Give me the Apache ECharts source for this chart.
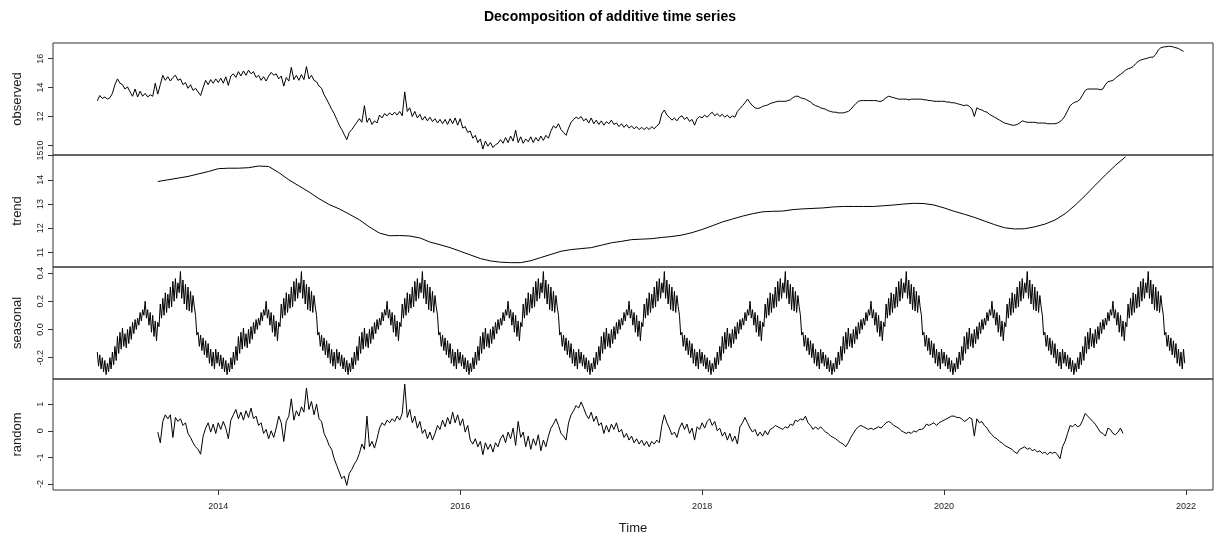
<!DOCTYPE html>
<html>
<head>
<meta charset="utf-8">
<title>Decomposition of additive time series</title>
<script src="https://cdn.jsdelivr.net/npm/echarts@6/dist/echarts.min.js"></script>
<style>
  html, body { margin: 0; padding: 0; background: #ffffff; }
  #chart { width: 1220px; height: 537px; }
</style>
</head>
<body>
<div id="chart"></div>
<script>
// Daily series, stored here at a regular step (fraction of a year).
const observedStart = 2013;
const observedStep = 1 / 48;
const observed = [
  13.08,13.45,13.25,13.35,13.2,13.3,13.6,14.2,14.6,14.3,
  14.2,13.9,14.05,13.7,13.4,13.9,13.35,13.75,13.4,13.6,
  13.35,13.5,13.4,14.3,13.55,14.2,14.85,14.5,14.75,14.45,
  14.7,14.85,14.5,14.6,14.2,14.35,13.95,14.2,13.8,13.95,
  13.7,13.45,14.0,14.5,14.2,14.55,14.3,14.6,14.35,14.65,
  14.3,14.75,14.15,14.8,14.95,14.7,15.1,14.8,15.15,14.85,
  15.2,14.95,15.1,14.7,14.85,14.5,14.75,14.45,14.8,15.05,
  14.85,14.95,14.6,14.8,14.1,14.7,14.45,15.4,14.55,14.85,
  14.5,14.9,14.55,15.45,14.6,14.85,14.5,14.4,14.1,13.95,
  13.5,13.2,12.85,12.5,12.2,11.8,11.4,11.1,10.75,10.4,
  10.9,11.1,11.35,11.6,11.85,11.6,12.75,11.6,11.9,11.45,
  11.7,11.55,12.1,11.9,12.2,12.05,12.25,12.1,12.3,12.1,
  12.35,12.05,13.7,12.35,12.6,12.0,12.35,11.9,12.15,11.75,
  12.0,11.7,11.95,11.65,11.85,11.55,11.8,11.5,11.8,11.45,
  11.85,11.5,11.9,11.4,11.85,11.2,11.3,10.9,11.0,10.5,
  10.7,10.2,10.45,9.75,10.3,9.95,10.2,9.85,10.05,10.15,
  10.4,10.15,10.55,10.2,10.65,10.3,11.05,10.2,10.6,10.15,
  10.45,10.25,10.6,10.2,10.55,10.3,10.65,10.35,10.7,10.5,
  11.0,11.35,11.2,11.5,11.1,10.9,10.7,11.2,11.6,11.8,
  11.95,11.85,12.0,11.7,11.85,11.55,11.9,11.5,11.75,11.45,
  11.7,11.4,11.65,11.5,11.75,11.45,11.55,11.3,11.5,11.25,
  11.45,11.2,11.35,11.15,11.3,11.1,11.25,11.1,11.25,11.1,
  11.3,11.15,11.35,11.5,12.2,12.45,12.1,11.95,11.75,11.9,
  11.7,11.95,12.05,11.8,11.95,11.65,11.8,11.4,11.85,12.0,
  11.9,12.1,11.95,12.15,12.3,12.05,12.2,12.0,12.15,11.95,
  12.1,11.9,12.05,11.95,12.35,12.55,12.75,12.95,13.2,12.95,
  12.75,12.6,12.55,12.6,12.7,12.75,12.8,12.9,12.95,13.0,
  13.05,13.05,13.05,13.05,13.1,13.15,13.3,13.4,13.4,13.3,
  13.25,13.2,13.1,13.0,12.85,12.75,12.7,12.6,12.55,12.5,
  12.4,12.35,12.3,12.3,12.25,12.25,12.25,12.3,12.35,12.5,
  12.7,12.9,13.05,13.1,13.1,13.1,13.1,13.1,13.1,13.1,
  13.05,13.05,13.15,13.3,13.4,13.35,13.3,13.25,13.2,13.2,
  13.2,13.2,13.15,13.2,13.2,13.2,13.2,13.2,13.15,13.15,
  13.1,13.1,13.05,13.05,13.05,13.05,13.05,13.0,13.0,12.95,
  12.95,12.9,12.85,12.8,12.75,12.8,12.7,12.55,12.0,12.6,
  12.5,12.45,12.35,12.3,12.15,12.05,11.95,11.85,11.75,11.65,
  11.55,11.5,11.45,11.4,11.4,11.45,11.55,11.7,11.65,11.6,
  11.6,11.6,11.6,11.55,11.55,11.55,11.55,11.5,11.5,11.5,
  11.5,11.55,11.65,11.8,12.05,12.4,12.75,12.9,13.0,13.05,
  13.2,13.5,13.8,13.9,13.9,13.9,13.9,13.9,13.85,13.9,
  14.2,14.4,14.45,14.5,14.65,14.8,14.9,15.05,15.2,15.3,
  15.35,15.45,15.65,15.8,15.9,15.95,16.0,16.05,16.1,16.1,
  16.3,16.6,16.75,16.8,16.82,16.85,16.85,16.8,16.75,16.7,16.6,16.5
];

const trendStart = 2013.5;
const trendStep = 1 / 12;
const trend = [
  13.93,14.0,14.07,14.14,14.24,14.34,14.46,14.48,14.48,14.5,
  14.57,14.55,14.3,14.0,13.75,13.5,13.22,12.98,12.8,12.58,
  12.35,12.05,11.8,11.69,11.7,11.68,11.6,11.43,11.32,11.2,
  11.05,10.9,10.75,10.65,10.6,10.58,10.58,10.66,10.79,10.92,
  11.05,11.12,11.16,11.2,11.3,11.4,11.46,11.53,11.55,11.57,
  11.62,11.66,11.72,11.82,11.95,12.1,12.26,12.38,12.5,12.6,
  12.68,12.7,12.71,12.77,12.8,12.82,12.84,12.88,12.9,12.9,
  12.9,12.9,12.93,12.96,13.0,13.03,13.02,12.96,12.84,12.7,
  12.58,12.45,12.3,12.15,12.02,11.97,11.98,12.06,12.17,12.34,
  12.6,12.95,13.35,13.78,14.2,14.6,14.95
];

// One year of the seasonal figure; the seasonal component repeats it every year.
const seasonalStart = 2013;
const seasonalStep = 1 / 96;
const seasonalYears = 9;
const seasonalFigure = [
  -0.16,-0.26,-0.18,-0.28,-0.2,-0.3,-0.22,-0.32,-0.24,-0.3,
  -0.2,-0.28,-0.16,-0.25,-0.12,-0.22,-0.05,-0.17,-0.02,-0.14,
  0.01,-0.12,-0.03,-0.13,0.0,-0.1,0.02,-0.07,0.05,-0.03,
  0.07,0.0,0.08,0.03,0.12,0.06,0.14,0.1,0.2,0.08,
  0.14,0.03,0.12,-0.02,0.1,-0.05,0.06,-0.08,0.05,0.02,
  0.18,0.08,0.22,0.1,0.26,0.12,0.25,0.15,0.3,0.16,
  0.34,0.2,0.36,0.22,0.33,0.26,0.41,0.22,0.35,0.18,
  0.32,0.14,0.3,0.13,0.27,0.12,0.24,0.16,0.1,-0.04,
  -0.02,-0.12,-0.04,-0.15,-0.06,-0.18,-0.08,-0.2,-0.1,-0.24,
  -0.14,-0.26,-0.16,-0.28,-0.14,-0.24
];

const randomStart = 2013.5;
const randomStep = 1 / 48;
const random = [
  -0.05,-0.45,0.35,0.6,0.45,0.6,-0.25,0.5,0.35,0.45,
  0.2,0.3,-0.1,-0.25,-0.45,-0.6,-0.7,-0.88,-0.2,0.1,
  0.3,-0.05,0.25,-0.1,0.3,0.05,0.35,0.1,-0.3,0.4,
  0.6,0.8,0.45,0.7,0.4,0.75,0.5,0.85,0.45,0.55,
  0.2,0.3,-0.1,0.05,-0.3,0.0,-0.25,0.1,0.55,0.3,
  -0.4,0.35,0.55,1.2,0.4,0.75,0.55,0.9,0.7,1.6,
  0.8,1.1,0.6,1.0,0.45,0.35,-0.1,-0.3,-0.55,-0.7,
  -1.05,-1.3,-1.55,-1.8,-1.7,-2.05,-1.6,-1.45,-1.25,-1.1,
  -0.85,-0.5,-0.7,0.55,-0.6,-0.4,-0.65,-0.3,0.1,0.3,
  0.2,0.4,0.3,0.45,0.35,0.55,0.4,0.65,1.75,0.5,
  0.8,0.3,0.55,0.1,0.35,-0.1,0.05,-0.3,-0.05,-0.35,
  -0.1,0.2,0.05,0.4,0.15,0.5,0.25,0.7,0.3,0.6,
  0.2,0.45,-0.05,0.2,-0.35,-0.5,-0.3,-0.6,-0.4,-0.9,
  -0.45,-0.7,-0.5,-0.8,-0.45,-0.6,-0.3,-0.15,-0.45,-0.05,
  -0.3,0.1,-0.55,0.35,-0.25,-0.05,-0.6,-0.2,-0.7,-0.3,
  -0.55,-0.15,-0.75,-0.35,-0.6,-0.2,0.1,0.25,0.45,0.2,
  -0.1,-0.2,-0.35,0.3,0.6,0.75,0.95,0.85,1.08,0.85,
  0.6,0.45,0.7,0.35,0.55,0.2,0.3,-0.1,0.2,-0.05,
  0.25,0.05,0.3,-0.05,0.05,-0.25,-0.1,-0.35,-0.2,-0.45,
  -0.3,-0.5,-0.35,-0.55,-0.4,-0.6,-0.4,-0.5,-0.35,-0.45,
  0.2,0.6,0.3,0.1,-0.15,-0.05,-0.25,0.1,0.3,0.05,
  0.25,-0.1,0.1,-0.35,0.15,0.05,0.3,0.1,0.35,0.45,
  0.2,0.35,0.0,0.1,-0.2,-0.05,-0.35,-0.1,-0.4,-0.2,
  -0.5,0.15,0.3,0.5,0.3,0.1,-0.05,0.05,-0.2,-0.05,
  -0.2,0.0,-0.15,0.05,0.1,0.2,0.15,0.1,0.05,0.15,
  0.1,0.25,0.2,0.4,0.35,0.45,0.4,0.55,0.3,0.2,
  0.05,0.15,0.05,0.15,0.05,-0.05,-0.1,-0.2,-0.25,-0.3,
  -0.38,-0.45,-0.5,-0.6,-0.45,-0.25,-0.1,0.05,0.15,0.2,
  0.15,0.1,0.05,0.1,0.05,0.1,0.15,0.1,0.2,0.3,
  0.35,0.3,0.2,0.15,0.1,0.0,-0.05,-0.1,-0.05,-0.1,
  0.0,-0.05,0.05,0.05,0.1,0.25,0.2,0.25,0.3,0.2,
  0.3,0.35,0.4,0.45,0.5,0.55,0.55,0.5,0.5,0.45,
  0.35,0.4,0.5,0.45,-0.2,0.45,0.3,0.35,0.2,0.1,
  -0.05,-0.15,-0.25,-0.3,-0.4,-0.45,-0.55,-0.6,-0.65,-0.7,
  -0.8,-0.85,-0.7,-0.65,-0.6,-0.7,-0.65,-0.75,-0.7,-0.8,
  -0.75,-0.85,-0.8,-0.9,-0.8,-0.85,-0.8,-0.9,-1.05,-0.6,
  -0.4,-0.1,0.2,0.15,0.25,0.15,0.2,0.4,0.65,0.55,
  0.45,0.35,0.25,0.1,-0.05,-0.1,-0.2,0.1,0.05,-0.1,
  -0.15,-0.05,0.1,-0.1
];

const panelNames = ['observed', 'trend', 'seasonal', 'random'];
const yearTicks = [2014, 2016, 2018, 2020, 2022];
const observedTicks = [10, 12, 14, 16];
const trendTicks = [11, 12, 13, 14, 15];
const seasonalTicks = [-0.2, 0, 0.2, 0.4];
const randomTicks = [-2, -1, 0, 1];

// ---------------------------------------------------------------
function timed(start, step, values) {
  return values.map((v, i) => [start + i * step, v]);
}

const seasonal = [];
for (let y = 0; y < seasonalYears; y++) {
  for (const v of seasonalFigure) seasonal.push(v);
}

const FONT = '"Liberation Sans", Arial, Helvetica, sans-serif';
const INK = '#1a1a1a';

const panels = [
  { data: timed(observedStart, observedStep, observed), min: 9.34, max: 17.08, ticks: observedTicks, fmt: v => String(v) },
  { data: timed(trendStart, trendStep, trend), min: 10.40, max: 15.025, ticks: trendTicks, fmt: v => String(v) },
  { data: timed(seasonalStart, seasonalStep, seasonal), min: -0.351, max: 0.442, ticks: seasonalTicks, fmt: v => v.toFixed(1) },
  { data: timed(randomStart, randomStep, random), min: -2.224, max: 1.944, ticks: randomTicks, fmt: v => String(v) }
];

const panelTops = [43, 155, 267, 379];
const panelHeights = [112, 112, 112, 111];
const xMin = 2012.634, xMax = 2022.223;

const option = {
  backgroundColor: '#ffffff',
  animation: false,
  title: {
    text: 'Decomposition of additive time series',
    left: 'center',
    top: 5,
    textStyle: { fontFamily: FONT, fontSize: 14, fontWeight: 'bold', color: '#000' }
  },
  grid: panels.map((p, i) => ({
    left: 53, right: 7, top: panelTops[i], height: panelHeights[i],
    show: true, borderColor: '#333', borderWidth: 1, backgroundColor: 'transparent'
  })),
  xAxis: panels.map((p, i) => ({
    gridIndex: i,
    type: 'value',
    min: xMin,
    max: xMax,
    position: 'bottom',
    axisLine: { show: false, onZero: false },
    splitLine: { show: false },
    axisTick: { show: i === 3, length: 5, customValues: yearTicks, lineStyle: { color: '#333', width: 1 } },
    axisLabel: {
      show: i === 3, customValues: yearTicks, margin: 12,
      formatter: v => String(v),
      fontFamily: FONT, fontSize: 9, color: INK
    },
    name: i === 3 ? 'Time' : '',
    nameLocation: 'middle',
    nameGap: 32,
    nameTextStyle: { fontFamily: FONT, fontSize: 13, color: INK }
  })),
  yAxis: panels.map((p, i) => ({
    gridIndex: i,
    type: 'value',
    min: p.min,
    max: p.max,
    position: 'left',
    axisLine: { show: false, onZero: false },
    splitLine: { show: false },
    axisTick: { show: true, length: 5, customValues: p.ticks, lineStyle: { color: '#333', width: 1 } },
    axisLabel: {
      show: true, customValues: p.ticks, rotate: 90, margin: 8,
      formatter: p.fmt, fontFamily: FONT, fontSize: 9, color: INK
    },
    name: panelNames[i],
    nameLocation: 'middle',
    nameRotate: 90,
    nameGap: 29,
    nameTextStyle: { fontFamily: FONT, fontSize: 13, color: INK }
  })),
  series: panels.map((p, i) => ({
    type: 'line',
    xAxisIndex: i,
    yAxisIndex: i,
    data: p.data,
    showSymbol: false,
    symbol: 'none',
    silent: true,
    sampling: null,
    clip: true,
    lineStyle: { color: '#000', width: 1 }
  }))
};

const chart = echarts.init(document.getElementById('chart'), null, { renderer: 'canvas' });
chart.setOption(option);
</script>
</body>
</html>
